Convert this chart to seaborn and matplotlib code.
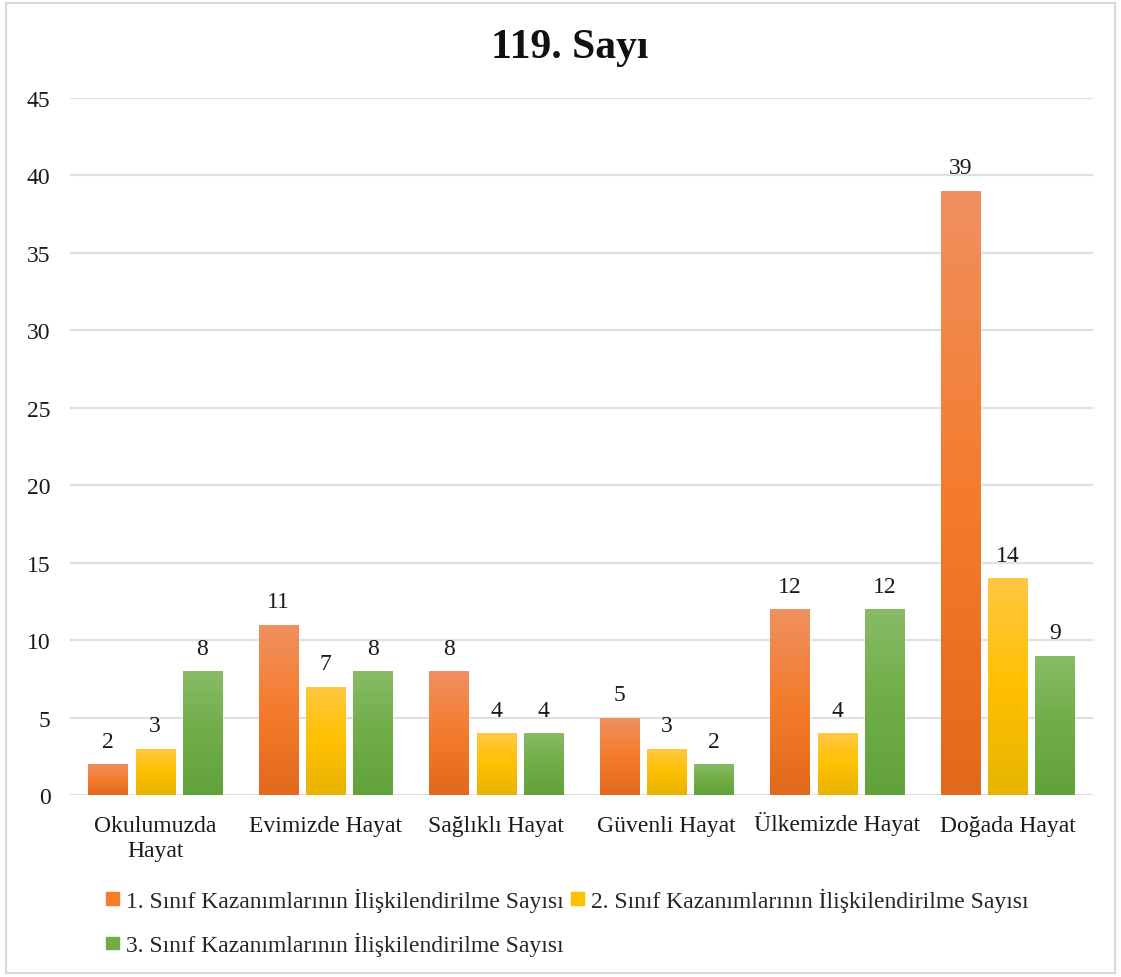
import numpy as np
import pandas as pd
import matplotlib
matplotlib.use("Agg")
import matplotlib.pyplot as plt
import matplotlib.patches as mpatches
import matplotlib.transforms as mtransforms
from matplotlib.colors import LinearSegmentedColormap
import seaborn as sns

# ─── Data ────────────────────────────────────────────────────────────────────
UNITS = ["Okulumuzda\nHayat", "Evimizde Hayat", "Sağlıklı Hayat",
         "Güvenli Hayat", "Ülkemizde Hayat", "Doğada Hayat"]
SERIES = ["1. Sınıf Kazanımlarının İlişkilendirilme Sayısı",
          "2. Sınıf Kazanımlarının İlişkilendirilme Sayısı",
          "3. Sınıf Kazanımlarının İlişkilendirilme Sayısı"]
GRADE1 = [2, 11, 8, 5, 12, 39]
GRADE2 = [3, 7, 4, 3, 4, 14]
GRADE3 = [8, 8, 4, 2, 12, 9]
Y_TICKS = [0, 5, 10, 15, 20, 25, 30, 35, 40, 45]
TITLE = "119. Sayı"

# gradient (top, middle, bottom) per series, office style
GRADIENTS = [
    ("#F09060", "#F47C2C", "#E2691B"),
    ("#FFC843", "#FFC000", "#E6B400"),
    ("#88BB66", "#70AD47", "#62A23A"),
]
SOLID = ["#F47C2C", "#FFC000", "#70AD47"]

df = pd.DataFrame({
    "unit": UNITS * 3,
    "series": [s for s in SERIES for _ in UNITS],
    "value": GRADE1 + GRADE2 + GRADE3,
})

sns.set_style("white")
plt.rcParams["font.family"] = ["Liberation Serif", "DejaVu Serif"]

fig = plt.figure(figsize=(11.21, 9.78), dpi=100)
ax = fig.add_axes([0.0624, 0.186, 0.9126, 0.713])

sns.barplot(data=df, x="unit", y="value", hue="series", hue_order=SERIES,
            order=UNITS, palette=SOLID, width=0.83, gap=0.17, ax=ax,
            legend=False, zorder=3)

# gradient fill clipped to each bar
for ci, container in enumerate(ax.containers):
    top, mid, bot = GRADIENTS[ci]
    cmap = LinearSegmentedColormap.from_list(f"g{ci}", [bot, mid, top])
    grad = np.linspace(0, 1, 256).reshape(-1, 1)
    for bar in container:
        x0, y0 = bar.get_x(), bar.get_y()
        w, h = bar.get_width(), bar.get_height()
        im = ax.imshow(grad, cmap=cmap, aspect="auto", origin="lower",
                       extent=[x0, x0 + w, y0, y0 + h], zorder=4)
        im.set_clip_path(bar)
    ax.bar_label(container, padding=9, fontsize=17, color="#1a1a1a")

ax.set_xlim(-0.5, len(UNITS) - 0.5)
ax.set_ylim(0, 45)
ax.set_yticks(Y_TICKS)
ax.yaxis.grid(True, color="#DDE1E7", linewidth=1.6, zorder=0)
ax.set_axisbelow(True)
for s in ax.spines.values():
    s.set_visible(False)
ax.tick_params(axis="y", length=0, pad=14, labelsize=17, labelcolor="#1a1a1a")
ax.tick_params(axis="x", length=0, pad=14, labelsize=17, labelcolor="#1a1a1a")
for lbl in ax.get_xticklabels():
    lbl.set_linespacing(1.3)
    # the umlaut makes this label sit lower; lift it to the common baseline
    if lbl.get_text().startswith("Ü"):
        lbl.set_transform(lbl.get_transform() +
                          mtransforms.ScaledTranslation(0, 2.5 / 72, fig.dpi_scale_trans))
ax.set_xlabel("")
ax.set_ylabel("")

fig.text(0.508, 1 - 48 / 978, TITLE, ha="center", va="center",
         fontsize=30, fontweight="bold", color="#111111")

# legend: rows "1 2" then "3"
handles = [mpatches.Patch(color=c) for c in SOLID]
order = [0, 2, 1]
fig.legend([handles[i] for i in order], [SERIES[i] for i in order],
           ncol=2, loc="upper left", bbox_to_anchor=(0.080, 0.108),
           frameon=False, fontsize=17, handlelength=0.55, handleheight=0.45,
           handletextpad=0.3, columnspacing=0.3, labelspacing=0.85,
           borderpad=0.2)

# light frame around the figure
fig.patches.append(mpatches.Rectangle((0.005, 0.004), 0.99, 0.992,
                                      transform=fig.transFigure, fill=False,
                                      edgecolor="#D9D9D9", linewidth=1.5))

fig.savefig("out.png", dpi=100)
